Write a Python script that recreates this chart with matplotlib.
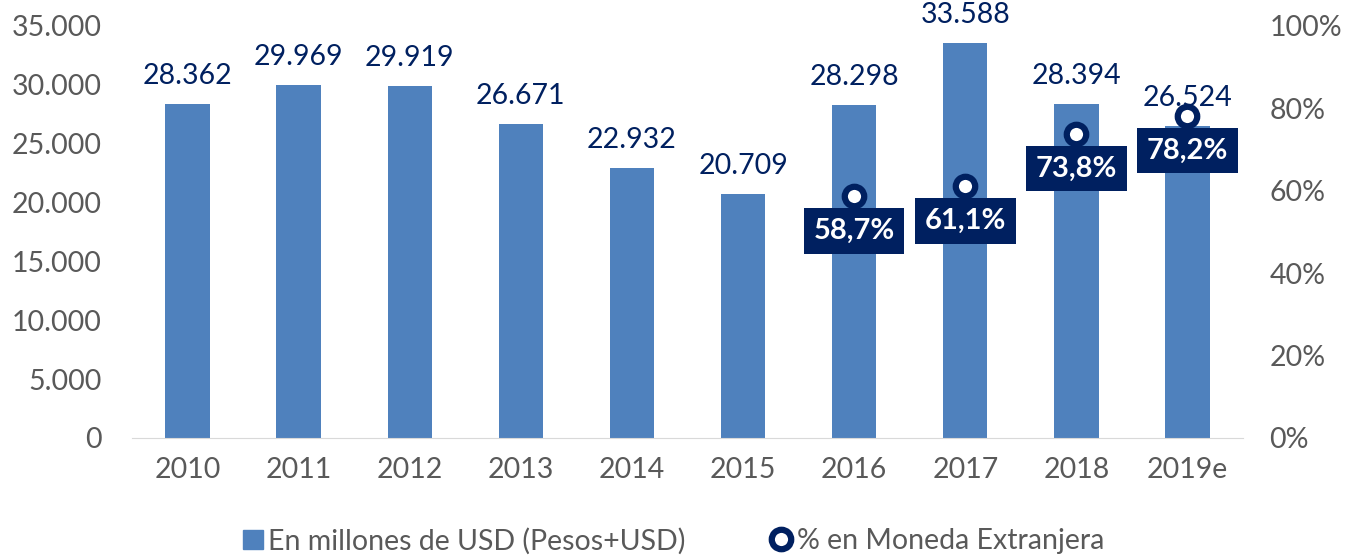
import matplotlib
matplotlib.use("Agg")
import matplotlib.pyplot as plt
from matplotlib.lines import Line2D
from matplotlib.patches import Patch

years = ["2010", "2011", "2012", "2013", "2014", "2015", "2016", "2017", "2018", "2019e"]
deuda = [28362, 29969, 29919, 26671, 22932, 20709, 28298, 33588, 28394, 26524]
pct_years = [6, 7, 8, 9]
pct_me = [58.7, 61.1, 73.8, 78.2]

bar_col = "#4F81BD"
navy = "#002060"
gray = "#595959"

plt.rcParams['font.family'] = ['Lato', 'DejaVu Sans']

fig = plt.figure(figsize=(13.47, 5.55), dpi=100)
ax = fig.add_axes([132/1347, 1-438/555, (1243-132)/1347, 412/555])
x = list(range(len(years)))
ax.bar(x, deuda, width=0.4, color=bar_col, zorder=2)
ax.set_xlim(-0.5, 9.5)
ax.set_ylim(0, 35000)
ax.set_yticks(range(0, 35001, 5000))
ax.set_yticklabels(["{:,}".format(v).replace(",", ".") for v in range(0, 35001, 5000)])
ax.set_xticks(x)
ax.set_xticklabels(years)
for s in ["top", "right", "left"]:
    ax.spines[s].set_visible(False)
ax.spines["bottom"].set_color("#D9D9D9")
ax.tick_params(length=0, labelsize=20.5, colors=gray)
ax.tick_params(axis="x", pad=14)
ax.tick_params(axis="y", pad=22)

for xi, v in zip(x, deuda):
    ax.annotate("{:,}".format(v).replace(",", "."), (xi, v), xytext=(0, 20),
                textcoords="offset points", ha="center", va="center",
                fontsize=20.5, color=navy)

ax2 = ax.twinx()
ax2.set_ylim(0, 100)
ax2.set_yticks(range(0, 101, 20))
ax2.set_yticklabels([f"{v}%" for v in range(0, 101, 20)])
for s in ax2.spines.values():
    s.set_visible(False)
ax2.tick_params(length=0, labelsize=20.5, colors=gray, pad=19)
ax2.plot(pct_years, pct_me, linestyle="none", marker="o", markersize=14,
         markerfacecolor="white", markeredgecolor=navy, markeredgewidth=4.5, zorder=5)
for xi, p in zip(pct_years, pct_me):
    ax2.annotate(f"{p:.1f}%".replace(".", ","), (xi, p), xytext=(0, -25),
                 textcoords="offset points", ha="center", va="center",
                 fontsize=21, fontweight="bold", color="white",
                 bbox=dict(boxstyle="square,pad=0.33", fc=navy, ec="none"))

handles = [Patch(color=bar_col, label="En millones de USD (Pesos+USD)"),
           Line2D([], [], linestyle="none", marker="o", markersize=14,
                  markerfacecolor="white", markeredgecolor=navy, markeredgewidth=4.5,
                  label="% en Moneda Extranjera")]
fig.legend(handles=handles, loc="center", bbox_to_anchor=(0.5, 1-541/555), ncol=2,
           frameon=False, fontsize=20.5, labelcolor=gray, handlelength=0.7,
           handletextpad=0.2, columnspacing=3)

fig.savefig("out.png", dpi=100)
